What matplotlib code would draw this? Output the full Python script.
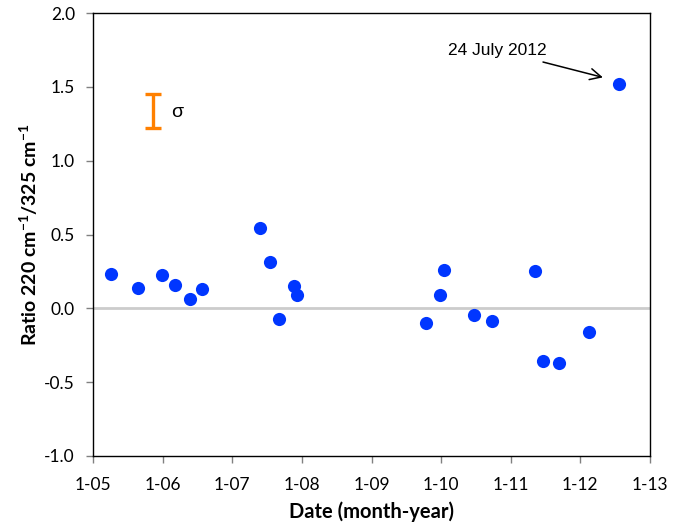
import datetime as dt
import matplotlib
matplotlib.use("Agg")
import matplotlib.pyplot as plt
import matplotlib.dates as mdates
from matplotlib.ticker import FuncFormatter, MultipleLocator

plt.rcParams['font.family'] = ['Lato', 'DejaVu Sans']
plt.rcParams['mathtext.fontset'] = 'custom'
plt.rcParams['mathtext.rm'] = 'Lato'
plt.rcParams['mathtext.bf'] = 'Lato:bold'

# measurement dates and 220/325 cm-1 ratios
dates = ['2005-04-05', '2005-08-26', '2005-12-30', '2006-03-05', '2006-05-24',
         '2006-07-26', '2007-05-29', '2007-07-21', '2007-09-03', '2007-11-20',
         '2007-12-06', '2009-10-13', '2009-12-28', '2010-01-16', '2010-06-24',
         '2010-09-26', '2011-05-10', '2011-06-21', '2011-09-13', '2012-02-17',
         '2012-07-24']
ratios = [0.235, 0.140, 0.225, 0.156, 0.061,
          0.129, 0.546, 0.311, -0.070, 0.154,
          0.090, -0.100, 0.090, 0.259, -0.043,
          -0.088, 0.250, -0.354, -0.372, -0.160,
          1.517]

sigma_date = '2005-11-13'
sigma_center = 1.334
sigma = 0.116

years = list(range(2005, 2014))

x = [dt.datetime.strptime(d, '%Y-%m-%d') for d in dates]

fig, ax = plt.subplots(figsize=(6.86, 5.29), dpi=100)
fig.subplots_adjust(left=0.1356, right=0.9475, top=0.9754, bottom=0.138)

ax.axhline(0, color='#cccccc', lw=2, zorder=1)
ax.scatter(x, ratios, s=90, color='#0036ff', zorder=3, linewidths=0)

# uncertainty bar
sx = dt.datetime.strptime(sigma_date, '%Y-%m-%d')
ax.errorbar([sx], [sigma_center], yerr=sigma, fmt='none', ecolor='#ff8000',
            elinewidth=2.4, capsize=6, capthick=2.4, zorder=3)
ax.text(dt.datetime(2006, 3, 16), 1.327, 'σ', ha='center', va='center',
        fontsize=14, family='Liberation Sans')

ax.annotate('24 July 2012', xy=(dt.datetime(2012, 4, 29), 1.564),
            xytext=(dt.datetime(2011, 7, 10), 1.747), ha='right', va='center',
            fontsize=12.5, family='Liberation Sans',
            arrowprops=dict(arrowstyle='->', color='black', lw=1.1,
                            mutation_scale=20, shrinkA=4, shrinkB=0))

ax.set_xlim(dt.datetime(2005, 1, 1), dt.datetime(2013, 1, 1))
ax.set_ylim(-1.0, 2.0)
ax.set_xticks([dt.datetime(y, 1, 1) for y in years])
ax.xaxis.set_major_formatter(FuncFormatter(
    lambda v, pos: '{}-{:%y}'.format(mdates.num2date(v).month, mdates.num2date(v))))
ax.yaxis.set_major_locator(MultipleLocator(0.5))
ax.yaxis.set_major_formatter(FuncFormatter(lambda v, pos: '%.1f' % v))

ax.tick_params(axis='both', direction='out', length=5, width=1, color='#808080',
               labelsize=12.5)
ax.tick_params(axis='x', pad=10)
ax.tick_params(axis='y', pad=8)
for s in ax.spines.values():
    s.set_color('black')
    s.set_linewidth(1)

ax.set_xlabel('Date (month-year)', fontsize=14.5, fontweight='bold', labelpad=6)
ax.set_ylabel(r'Ratio 220 cm$^{\mathbf{-1}}$/325 cm$^{\mathbf{-1}}$', fontsize=14,
              fontweight='bold', labelpad=3)

fig.savefig('out.png', dpi=100)
